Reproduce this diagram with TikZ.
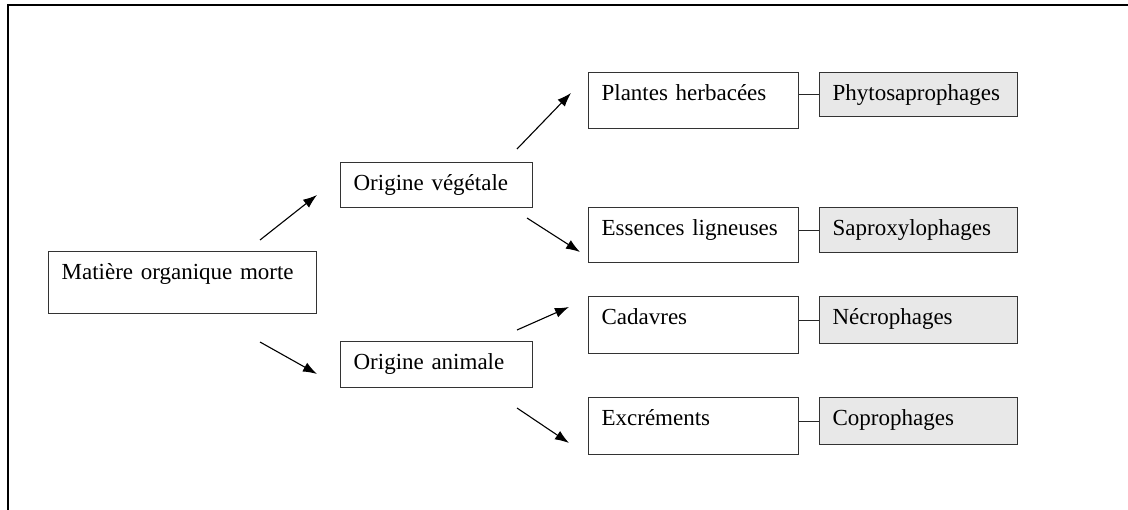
\documentclass[tikz,border=0pt]{standalone}
\usepackage{fontspec}
\setmainfont{Liberation Serif}
\usetikzlibrary{arrows.meta}
\begin{document}
\begin{tikzpicture}[x=1pt,y=-1pt,
  box/.style={draw=black!80, line width=1.2pt, anchor=north west, align=left,
    inner xsep=13pt, inner ysep=0pt, text height=28pt,
    font=\fontsize{23}{27}\selectfont},
  graybox/.style={box, fill=black!9},
  arr/.style={line width=1.1pt, -{Latex[length=14pt,width=10pt]}},
  link/.style={line width=1.1pt, draw=black!85},
  frame/.style={line width=2.5pt}]
\useasboundingbox (0,0) rectangle (1128,510);
\draw[frame] (8,510) -- (8,5) -- (1128,5);

\node[box, text width=242pt, text depth=34pt] (M) at (48,251) {Matière organique morte};
\node[box, text width=166pt, text depth=17pt] (OV) at (340,162) {Origine végétale};
\node[box, text width=166pt, text depth=18pt] (OA) at (340,341) {Origine animale};

\node[box, text width=184pt, text depth=28pt] (PH) at (588,72) {Plantes herbacées};
\node[box, text width=184pt, text depth=27pt] (ES) at (588,207) {Essences ligneuses};
\node[box, text width=184pt, text depth=29pt] (CA) at (588,296) {Cadavres};
\node[box, text width=184pt, text depth=29pt] (EX) at (588,397) {Excréments};

\node[graybox, text width=172pt, text depth=16pt] (PHY) at (819,72) {Phytosaprophages};
\node[graybox, text width=172pt, text depth=17pt] (SAP) at (819,207) {Saproxylophages};
\node[graybox, text width=172pt, text depth=19pt] (NEC) at (819,296) {Nécrophages};
\node[graybox, text width=172pt, text depth=19pt] (COP) at (819,397) {Coprophages};

\draw[link] (PHY.west -| PH.east) -- (PHY.west);
\draw[link] (SAP.west -| ES.east) -- (SAP.west);
\draw[link] (NEC.west -| CA.east) -- (NEC.west);
\draw[link] (COP.west -| EX.east) -- (COP.west);

\coordinate (a1s) at (260,240); \coordinate (a1e) at (317,195);
\coordinate (a2s) at (260,342); \coordinate (a2e) at (317,374);
\coordinate (a3s) at (517,149); \coordinate (a3e) at (571,93);
\coordinate (a4s) at (527,218); \coordinate (a4e) at (580,252);
\coordinate (a5s) at (517,330); \coordinate (a5e) at (569,307);
\coordinate (a6s) at (517,408); \coordinate (a6e) at (569,443);
\draw[arr] (a1s) -- (a1e);
\draw[arr] (a2s) -- (a2e);
\draw[arr] (a3s) -- (a3e);
\draw[arr] (a4s) -- (a4e);
\draw[arr] (a5s) -- (a5e);
\draw[arr] (a6s) -- (a6e);
\end{tikzpicture}
\end{document}
